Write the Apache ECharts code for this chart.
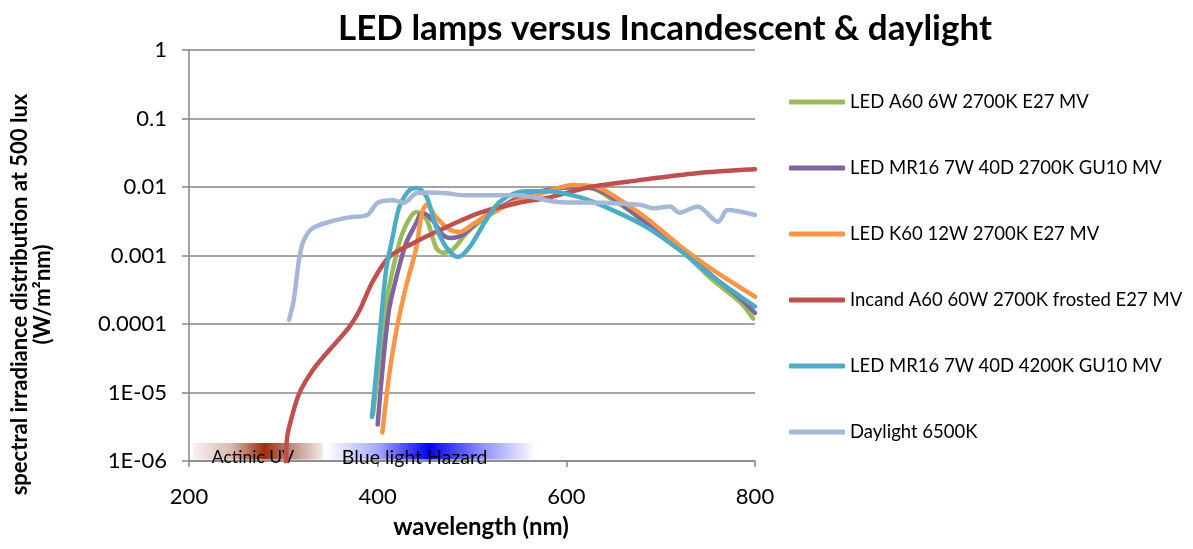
<!DOCTYPE html>
<html>
<head>
<meta charset="utf-8">
<script src="https://cdn.jsdelivr.net/npm/echarts@6/dist/echarts.min.js"></script>
<style>html,body{margin:0;padding:0;background:#fff}#c{width:1193px;height:549px}</style>
</head>
<body>
<div id="c"></div>
<script>
// ---- data ----
const seriesNames = ['LED A60 6W 2700K E27 MV','LED MR16 7W 40D 2700K GU10 MV','LED K60 12W 2700K E27 MV','Incand A60 60W 2700K frosted E27 MV','LED MR16 7W 40D 4200K GU10 MV','Daylight 6500K'];

const greenWl  = [395,402,409,416,425,434,441,452,462,469,479,494,508,530,550,580,610,630,649,667,685,720,755,784,798];
const greenVal = [4.7e-6,3.3e-5,2.0e-4,6.2e-4,1.9e-3,3.5e-3,4.3e-3,3.3e-3,1.3e-3,1.1e-3,1.2e-3,2.1e-3,3.1e-3,4.9e-3,7.1e-3,9.1e-3,1.0e-2,9.3e-3,6.5e-3,4.5e-3,2.8e-3,1.25e-3,4.4e-4,2.1e-4,1.2e-4];

const purpleWl  = [400,405,412,420,430,441,447,458,469,478,490,508,530,550,580,610,630,649,685,720,755,784,800];
const purpleVal = [3.4e-6,2.1e-5,1.6e-4,4.9e-4,1.5e-3,3.0e-3,4.2e-3,3.3e-3,2.0e-3,1.8e-3,2.0e-3,3.3e-3,5.0e-3,7.0e-3,9.0e-3,1.0e-2,9.5e-3,7.0e-3,3.0e-3,1.3e-3,5.0e-4,2.4e-4,1.45e-4];

const orangeWl  = [405,412,420,430,441,447,452,462,476,487,500,508,522,543,579,607,632,649,685,720,755,800];
const orangeVal = [2.6e-6,1.7e-5,8.2e-5,3.5e-4,1.3e-3,4.2e-3,5.5e-3,3.6e-3,2.4e-3,2.2e-3,2.8e-3,3.3e-3,4.2e-3,5.9e-3,8.5e-3,1.07e-2,1.0e-2,7.6e-3,3.5e-3,1.4e-3,6.2e-4,2.5e-4];

const incandWl  = [303,304,309,317,331,349,370,381,394,412,437,473,508,550,579,625,678,738,800];
const incandVal = [9.5e-7,2.2e-6,4.4e-6,9.8e-6,2.1e-5,4.2e-5,9.1e-5,1.6e-4,4.0e-4,9.5e-4,1.5e-3,2.6e-3,4.2e-3,5.9e-3,6.9e-3,1.0e-2,1.26e-2,1.59e-2,1.82e-2];

const cyanWl  = [394,402,409,416,423,434,442,452,462,473,485,497,515,529,550,561,579,614,649,685,720,755,800];
const cyanVal = [4.4e-6,6.5e-5,6.2e-4,1.9e-3,5.1e-3,9.1e-3,9.7e-3,7.1e-3,2.6e-3,1.3e-3,9.5e-4,1.3e-3,3.3e-3,6.0e-3,8.5e-3,8.7e-3,8.7e-3,7.1e-3,4.6e-3,2.6e-3,1.2e-3,4.9e-4,1.8e-4];

const dayWl  = [306,311,317,322,331,349,370,389,400,416,428,441,455,473,490,508,550,593,635,678,692,710,720,739,761,771,800];
const dayVal = [1.15e-4,2.2e-4,9.5e-4,1.7e-3,2.5e-3,3.1e-3,3.6e-3,3.9e-3,5.9e-3,6.4e-3,5.9e-3,8.1e-3,8.3e-3,8.1e-3,7.6e-3,7.6e-3,7.6e-3,6.0e-3,5.9e-3,5.5e-3,4.9e-3,5.2e-3,4.2e-3,5.2e-3,3.1e-3,4.6e-3,3.9e-3];

const xTicks = [200,400,600,800];
const yTickLabels = ['1E-06','1E-05','0.0001','0.001','0.01','0.1','1'];

// band ranges (nm) and heights (W/m2nm)
const uvBand = [204,342];
const blueBand = [345,564];
const bandLow = 1.05e-6, bandHigh = 1.83e-6;

const zip = (a,b) => a.map((v,i)=>[v,b[i]]);
const colors = ['#9BBB59','#8064A2','#F79646','#C0504D','#4BACC6','#A6B8D8'];
const allData = [zip(greenWl,greenVal),zip(purpleWl,purpleVal),zip(orangeWl,orangeVal),zip(incandWl,incandVal),zip(cyanWl,cyanVal),zip(dayWl,dayVal)];

const FONT = 'Lato';
const chart = echarts.init(document.getElementById('c'));

const lineSeries = allData.map((d,i)=>({
  name: seriesNames[i], type:'line', data:d, smooth:0.3, showSymbol:false, symbol:'none',
  lineStyle:{width:4.5,color:colors[i],cap:'round',join:'round'}, itemStyle:{color:colors[i]}, z:3+i, clip:true
}));

const uvGrad = new echarts.graphic.LinearGradient(0,0,1,0,[
  {offset:0,color:'#f7f2f2'},{offset:0.3,color:'#d9b8b0'},{offset:0.55,color:'#9c2e0a'},{offset:0.8,color:'#c59d94'},{offset:1,color:'#f1e9e9'}]);
const blueGrad = new echarts.graphic.LinearGradient(0,0,1,0,[
  {offset:0,color:'#ffffff'},{offset:0.25,color:'#a8a8ff'},{offset:0.5,color:'#0000ff'},{offset:0.75,color:'#8c8cff'},{offset:1,color:'#f6f6ff'}]);

const bandSeries = {
  name:'bands', type:'line', data:[[200,null]], silent:true, z:2,
  markArea:{ silent:true, data:[
    [{name:'Actinic UV', xAxis:uvBand[0], yAxis:bandHigh, itemStyle:{color:uvGrad},
      label:{show:true,position:'insideLeft',offset:[14,6],color:'#000',fontFamily:FONT,fontSize:17.5}},
     {xAxis:uvBand[1], yAxis:bandLow}],
    [{name:'Blue light Hazard', xAxis:blueBand[0], yAxis:bandHigh, itemStyle:{color:blueGrad},
      label:{show:true,position:'insideLeft',offset:[11,6],color:'#000',fontFamily:FONT,fontSize:19.5}},
     {xAxis:blueBand[1], yAxis:bandLow}]
  ]}
};

chart.setOption({
  animation:false,
  backgroundColor:'#fff',
  title:{text:'LED lamps versus Incandescent & daylight', left:660, textAlign:'center', top:6,
    textStyle:{fontFamily:FONT,fontSize:35,fontWeight:'bold',color:'#000'}},
  legend:{orient:'vertical', left:784, top:86, itemWidth:56, itemHeight:5, itemGap:44, icon:'roundRect',
    data:seriesNames, textStyle:{fontFamily:FONT,fontSize:18.5,lineHeight:22,color:'#000'}},
  grid:{left:189, right:438, top:50, bottom:88},
  xAxis:{type:'value', min:200, max:800, interval:200,
    axisLine:{lineStyle:{color:'#868686',width:1.5}},
    axisTick:{show:true,length:6,lineStyle:{color:'#868686',width:1.5}},
    axisLabel:{margin:25,fontFamily:FONT,fontSize:22,color:'#000',
      formatter:v=>xTicks.includes(v)?String(v):''},
    splitLine:{show:false},
    name:'wavelength (nm)', nameLocation:'middle', nameGap:54,
    nameTextStyle:{fontFamily:FONT,fontSize:24,fontWeight:'bold',color:'#000',padding:[0,0,0,18]}},
  yAxis:{type:'log', logBase:10, min:1e-6, max:1,
    axisLine:{show:true,lineStyle:{color:'#868686',width:1.5}},
    axisTick:{show:true,length:7,lineStyle:{color:'#868686',width:1.5}},
    axisLabel:{margin:22,fontFamily:FONT,fontSize:22,color:'#000',
      formatter:v=>{const k=Math.round(Math.log10(v))+6; return yTickLabels[k]||'';}},
    splitLine:{show:true,lineStyle:{color:'#868686',width:1.5}},
    name:'spectral irradiance distribution at 500 lux\n(W/m²nm)', nameLocation:'middle', nameGap:135,
    nameTextStyle:{fontFamily:FONT,fontSize:22,fontWeight:'bold',color:'#000',lineHeight:23,padding:[0,78,0,0]}},
  series:[bandSeries].concat(lineSeries)
});
</script>
</body>
</html>
